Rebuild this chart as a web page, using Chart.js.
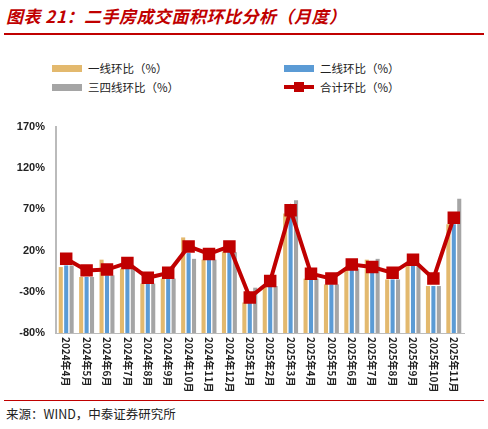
<!DOCTYPE html>
<html><head><meta charset="utf-8">
<script src="https://cdn.jsdelivr.net/npm/chart.js@4"></script>
<style>
body{margin:0;width:488px;height:429px;position:relative;background:#fff;font-family:"Noto Sans CJK SC",sans-serif;overflow:hidden}
#title{position:absolute;left:6px;top:3px;font-size:17px;font-weight:bold;font-style:italic;color:#c00000;letter-spacing:0.5px}
#rule{position:absolute;left:4px;top:33px;width:480px;height:2px;background:#c00000}
.lg{position:absolute;font-size:11.5px;color:#222;display:flex;align-items:center}
.sw{display:inline-block;width:30px;height:7px;margin-right:6px}
#src{position:absolute;left:6px;top:404px;font-size:12.5px;color:#222}
#bot{position:absolute;left:4px;top:400px;width:480px;height:1px;background:#c00000}
canvas{position:absolute;left:0;top:0}
</style></head><body>
<div id="title">图表 21：二手房成交面积环比分析（月度）</div>
<div id="rule"></div>
<div class="lg" style="left:52px;top:60px"><span class="sw" style="background:#e3b96e"></span>一线环比（%）</div>
<div class="lg" style="left:284px;top:60px"><span class="sw" style="background:#5b9bd5"></span>二线环比（%）</div>
<div class="lg" style="left:52px;top:79px"><span class="sw" style="background:#a5a5a5"></span>三四线环比（%）</div>
<div class="lg" style="left:284px;top:79px"><span style="position:relative;width:30px;height:10px;margin-right:6px;display:inline-block"><span style="position:absolute;left:0;top:3px;width:30px;height:4px;background:#c00000"></span><span style="position:absolute;left:10px;top:0;width:10px;height:10px;background:#c00000"></span></span>合计环比（%）</div>
<div id="bot"></div>
<div id="src">来源：WIND，中泰证券研究所</div>
<canvas id="c" width="488" height="429"></canvas>
<script>
const categories=["2024年4月","2024年5月","2024年6月","2024年7月","2024年8月","2024年9月","2024年10月","2024年11月","2024年12月","2025年1月","2025年2月","2025年3月","2025年4月","2025年5月","2025年6月","2025年7月","2025年8月","2025年9月","2025年10月","2025年11月"];
const tier1=[0,-12,9,-2,-20,-14,36,9,19,-43,-23,65,-14,-21,-2,9,-15,3,-23,52];
const tier2=[2,-12,-10,-2,-20,-14,17,9,19,-43,-23,65,-14,-21,-2,-3,-15,3,-23,52];
const tier34=[2,-12,-10,-2,-20,-14,10,9,18,-25,-23,81,-14,-21,-2,10,-15,3,-23,83];
const total=[10,-4,-3,5,-13,-7,25,16,25,-37,-17,69,-8,-14,3,0,-7,9,-14,60];
const yTicks=[-80,-30,20,70,120,170];
const labelPlugin={id:'lbl',afterDraw(ch){const x=ch.scales.x,ctx=ch.ctx;ctx.save();ctx.font='bold 10px "Noto Sans CJK SC"';ctx.fillStyle='#222';ctx.textBaseline='middle';
categories.forEach((c,i)=>{const px=x.getPixelForValue(i);ctx.save();ctx.translate(px,x.top+4);ctx.rotate(Math.PI/2);ctx.fillText(c,0,0);ctx.restore();});ctx.restore();}};
const bar=(d,c)=>({type:'bar',data:d,backgroundColor:c,base:-80,categoryPercentage:0.8,barPercentage:0.75,order:2});
new Chart(document.getElementById('c'),{data:{labels:categories,datasets:[
bar(tier1,'#e3b96e'),bar(tier2,'#5b9bd5'),bar(tier34,'#a5a5a5'),
{type:'line',data:total,borderColor:'#c00000',backgroundColor:'#c00000',borderWidth:4,pointStyle:'rect',pointRadius:6,pointHoverRadius:6,order:1}]},
options:{responsive:false,animation:false,events:[],layout:{padding:{top:127,right:24,bottom:30}},
plugins:{legend:{display:false},tooltip:{enabled:false}},
scales:{x:{grid:{display:false},border:{color:'#bbb'},ticks:{display:false},afterFit(s){s.height=66}},
y:{min:-80,max:170,afterBuildTicks(s){s.ticks=yTicks.map(v=>({value:v}))},grid:{display:false,drawTicks:true},border:{color:'#bbb',width:2},
ticks:{color:'#222',font:{size:11,weight:'bold',family:'Liberation Sans'},callback:v=>v+'%'},afterFit(s){s.width=56}}}},
plugins:[labelPlugin]});
</script></body></html>
